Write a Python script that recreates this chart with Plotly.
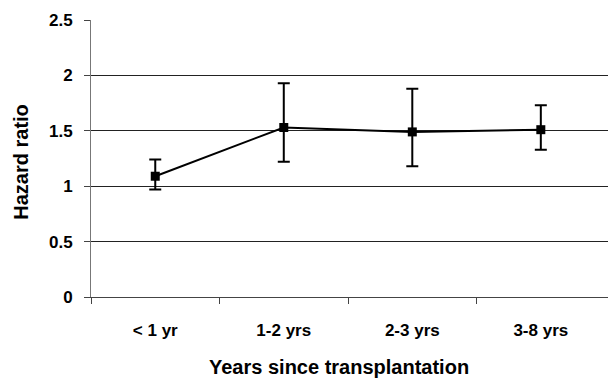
import plotly.graph_objects as go

categories = ["< 1 yr", "1-2 yrs", "2-3 yrs", "3-8 yrs"]
hazard_ratio = [1.09, 1.53, 1.49, 1.51]
ci_upper = [1.24, 1.93, 1.88, 1.73]
ci_lower = [0.97, 1.22, 1.18, 1.33]
y_ticks = [0, 0.5, 1, 1.5, 2, 2.5]
y_tick_labels = ["0", "0.5", "1", "1.5", "2", "2.5"]

xpos = list(range(len(categories)))
err_plus = [u - v for u, v in zip(ci_upper, hazard_ratio)]
err_minus = [v - l for v, l in zip(hazard_ratio, ci_lower)]

fig = go.Figure()
fig.add_trace(go.Scatter(
    x=xpos, y=hazard_ratio, mode="lines+markers",
    line=dict(color="black", width=2),
    marker=dict(symbol="square", size=9, color="black"),
    error_y=dict(type="data", symmetric=False, array=err_plus, arrayminus=err_minus,
                 color="black", thickness=2, width=6),
    showlegend=False,
))

font = dict(family="Liberation Sans, Arial, sans-serif", color="black")

# page body has an 8px margin, so the figure is 8px smaller than the window
fig.update_layout(
    width=608, height=372,
    margin=dict(l=83, r=0, t=12, b=83),
    paper_bgcolor="white", plot_bgcolor="white",
    font=font,
    xaxis=dict(
        range=[-0.5, 3.585], tickvals=xpos, ticktext=["<b>%s</b>" % c for c in categories],
        ticks="", showgrid=False, zeroline=False,
        showline=True, linecolor="#444", linewidth=1,
        tickfont=dict(size=17, **font), ticklabelstandoff=18,
        minor=dict(tickvals=[-0.5, 0.5, 1.5, 2.5], ticks="outside", ticklen=6,
                   tickcolor="#444", showgrid=False),
    ),
    yaxis=dict(
        range=[0, 2.5], tickvals=y_ticks, ticktext=["<b>%s</b>" % t for t in y_tick_labels],
        ticks="outside", ticklen=6, tickcolor="#444",
        showgrid=True, gridcolor="#222", gridwidth=1, zeroline=False,
        showline=True, linecolor="#777", linewidth=1,
        tickfont=dict(size=17, **font), ticklabelstandoff=8,
    ),
    annotations=[
        dict(text="<b>Years since transplantation</b>", xref="paper", yref="paper",
             x=0.472, y=-0.253, xanchor="center", yanchor="middle", showarrow=False,
             font=dict(size=20, **font)),
        dict(text="<b>Hazard ratio</b>", xref="paper", yref="paper",
             x=-0.134, y=0.487, xanchor="center", yanchor="middle", showarrow=False,
             textangle=-90, font=dict(size=20, **font), borderpad=0),
    ],
)

fig.write_html("out.html")
